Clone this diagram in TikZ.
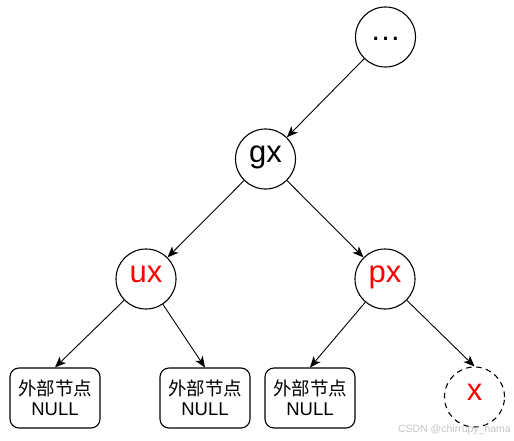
\documentclass[tikz,border=0pt]{standalone}
\usepackage{fontspec}
\setmainfont{Liberation Sans}
\newfontfamily\cjk{Noto Sans CJK SC}
\usetikzlibrary{arrows.meta}
\definecolor{nodered}{HTML}{FF0000}
\definecolor{wmgray}{HTML}{C4C4C4}
\tikzset{
  tnode/.style={circle, draw, line width=1.1pt, minimum size=60pt, inner sep=0pt,
    font=\fontsize{31}{36}\selectfont, text height=0.88em, text depth=0.21em},
  redtext/.style={text=nodered},
  extbox/.style={draw, line width=1.1pt, rounded corners=9pt, minimum width=90pt,
    minimum height=60pt, inner sep=0pt, align=center, font=\fontsize{18.5}{20.5}\selectfont},
  edge/.style={line width=0.9pt, -{Stealth[length=11pt, width=9pt, inset=3pt]}},
  dashring/.style={dash pattern=on 5.5pt off 4.5pt},
}
\begin{document}
\begin{tikzpicture}[x=1pt, y=-1pt]
\useasboundingbox (0,0) rectangle (514,441);
\node[tnode] (top) at (385.5,37) {…};
\node[tnode] (gx) at (265.5,159) {gx};
\node[tnode, redtext] (ux) at (146,279) {ux};
\node[tnode, redtext] (px) at (385,279) {px};
\node[tnode, redtext, dashring] (x) at (474.5,397) {x};
\node[extbox] (b1) at (55,398) {{\cjk 外部节点}\\NULL};
\node[extbox] (b2) at (205,398) {{\cjk 外部节点}\\NULL};
\node[extbox] (b3) at (310,398) {{\cjk 外部节点}\\NULL};
\draw[edge] (top) -- (gx);
\draw[edge] (gx) -- (ux);
\draw[edge] (gx) -- (px);
\draw[edge] (ux) -- (b1.north);
\draw[edge] (ux) -- (b2.north);
\draw[edge] (px) -- (b3.north);
\draw[edge] (px) -- (x.north);
\node[anchor=east, text=wmgray, font=\fontsize{10.5}{12}\selectfont, inner sep=0pt] (wm) at (511,430) {CSDN @chirrupy\_hama};
\end{tikzpicture}
\end{document}
